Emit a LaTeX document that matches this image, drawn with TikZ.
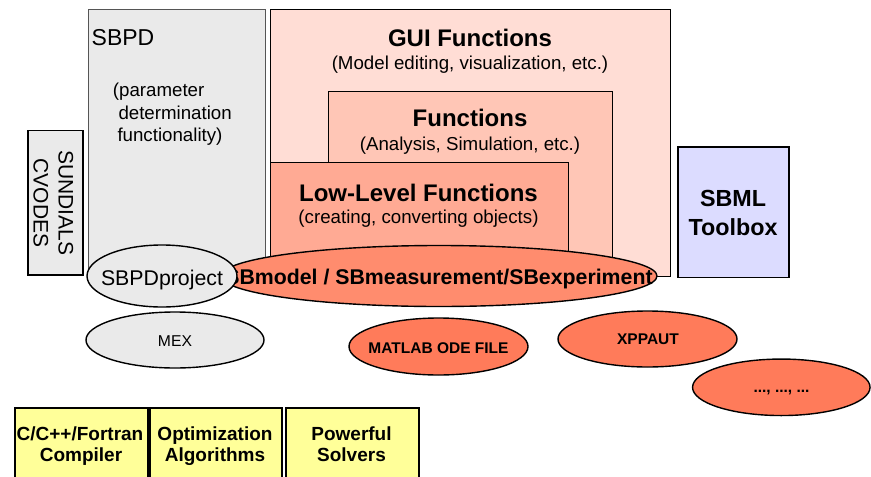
\documentclass[tikz,border=0pt]{standalone}
\usepackage{fontspec}
\setmainfont{Liberation Sans}
\usetikzlibrary{shapes.geometric}
\definecolor{guifill}{HTML}{FFDDD5}
\definecolor{funfill}{HTML}{FFC6B6}
\definecolor{lowfill}{HTML}{FFAA94}
\definecolor{objfill}{HTML}{FF8C6E}
\definecolor{expfill}{HTML}{FF7B5A}
\definecolor{grayfill}{HTML}{EAEAEA}
\definecolor{sbmlfill}{HTML}{DCDCFF}
\definecolor{yelfill}{HTML}{FFFF99}
\definecolor{sbpdline}{HTML}{555555}
\begin{document}
\begin{tikzpicture}[x=1pt,y=-1pt,
  box/.style={draw=black, line width=1.1pt, inner sep=0pt, anchor=north west},
  oval/.style={draw=black, line width=1.4pt, ellipse, inner sep=0pt},
  txt/.style={anchor=base, inner sep=0pt},
  ttl/.style={txt, font=\bfseries\fontsize{24}{28}\selectfont},
  sub/.style={txt, font=\fontsize{18.7}{22}\selectfont},
  yel/.style={txt, font=\bfseries\fontsize{19}{22}\selectfont},
  small/.style={txt, font=\bfseries\fontsize{15.5}{18}\selectfont}]
\useasboundingbox (0,0) rectangle (871,477);
\clip (0,0) rectangle (871,477);

% main boxes
\node[box, fill=guifill, minimum width=400.5pt, minimum height=267pt] (gui) at (269.5,9) {};
\node[box, fill=funfill, minimum width=284pt, minimum height=180pt] (fun) at (328,91) {};
\node[box, fill=lowfill, line width=1.4pt, minimum width=298.5pt, minimum height=108pt] (low) at (269.5,162) {};
\node[box, draw=sbpdline, fill=grayfill, minimum width=177pt, minimum height=262pt] (sbpd) at (88,9) {};
\node[box, fill=grayfill, line width=1.5pt, minimum width=55pt, minimum height=144.5pt] (sund) at (27,129.5) {};
\node[box, fill=sbmlfill, line width=1.5pt, minimum width=111pt, minimum height=130.5pt] (sbml) at (677.3,146) {};

% texts in boxes
\node[ttl] (guit) at (470,46.7) {GUI Functions};
\node[sub] (guis) at (470,69) {(Model editing, visualization, etc.)};
\node[ttl] (funt) at (470,126.7) {Functions};
\node[sub] (funs) at (470,150) {(Analysis, Simulation, etc.)};
\node[ttl] (lowt) at (418.5,201) {Low-Level Functions};
\node[sub] (lows) at (418.5,223) {(creating, converting objects)};
\node[txt, anchor=base west, font=\fontsize{23}{27}\selectfont] (sbpdt) at (91.5,45) {SBPD};
\node[sub, anchor=base west] (p1) at (112.7,96.7) {(parameter};
\node[sub, anchor=base west] (p2) at (118.3,119.3) {determination};
\node[sub, anchor=base west] (p3) at (117.3,141.7) {functionality)};
\node[txt, rotate=-90, font=\fontsize{21}{25}\selectfont] (sund1) at (58.5,203) {SUNDIALS};
\node[txt, rotate=-90, font=\fontsize{21}{25}\selectfont] (sund2) at (33.5,203) {CVODES};
\node[ttl, font=\bfseries\fontsize{23.3}{28}\selectfont] (sbml1) at (733,206) {SBML};
\node[ttl, font=\bfseries\fontsize{23.3}{28}\selectfont] (sbml2) at (733,235) {Toolbox};

% object ellipses
\node[oval, fill=objfill, minimum width=436pt, minimum height=61pt] (obj) at (439,276) {};
\node[txt, font=\bfseries\fontsize{21.3}{25}\selectfont] (objt) at (439,284.5) {SBmodel / SBmeasurement/SBexperiment};
\node[oval, fill=grayfill, minimum width=150pt, minimum height=62pt] (proj) at (162,276) {};
\node[txt, font=\fontsize{21.3}{25}\selectfont] (projt) at (162,285) {SBPDproject};

\node[oval, fill=grayfill, minimum width=178pt, minimum height=56pt] (mex) at (175,340) {};
\node[txt, font=\fontsize{15.7}{18}\selectfont] (mext) at (175,346.7) {MEX};
\node[oval, fill=expfill, minimum width=179pt, minimum height=57pt] (ode) at (438.5,346.5) {};
\node[small] (odet) at (438.5,353.3) {MATLAB ODE FILE};
\node[oval, fill=expfill, minimum width=179pt, minimum height=56pt] (xpp) at (647.5,339) {};
\node[small] (xppt) at (648,344) {XPPAUT};
\node[oval, fill=expfill, minimum width=177.5pt, minimum height=56.5pt] (etc) at (781.3,387.3) {};
\node[small] (etct) at (781.5,392.7) {..., ..., ...};

% yellow boxes
\node[box, fill=yelfill, line width=2pt, minimum width=133pt, minimum height=80pt] (comp) at (14,407) {};
\node[box, fill=yelfill, line width=2pt, minimum width=132pt, minimum height=80pt] (opt) at (149,407) {};
\node[box, fill=yelfill, line width=2pt, minimum width=133pt, minimum height=80pt] (solv) at (285,407) {};
\node[yel] (comp1) at (80,440.7) {C/C++/Fortran};
\node[yel] (comp2) at (81,461.7) {Compiler};
\node[yel] (opt1) at (215,440.7) {Optimization};
\node[yel] (opt2) at (215,461.7) {Algorithms};
\node[yel] (solv1) at (351.5,440.7) {Powerful};
\node[yel] (solv2) at (351.5,461.7) {Solvers};
\end{tikzpicture}
\end{document}
